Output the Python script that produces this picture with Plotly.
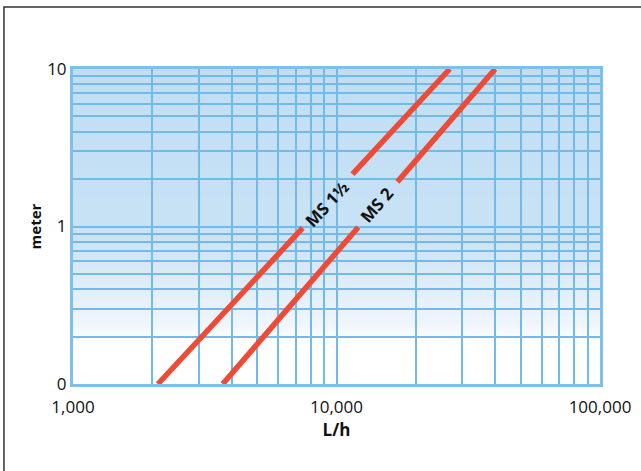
import base64
import math
import struct
import zlib

import plotly.graph_objects as go

# ---------------- data ----------------
ms15_flow = [2100, 7440, None, 11500, 26900]   # L/h
ms15_head = [0.1, 0.98, None, 2.15, 10]        # meter
ms2_flow = [3700, 12090, None, 17020, 40000]
ms2_head = [0.1, 0.99, None, 1.92, 10]

label_names = ["MS 1½", "MS 2"]
label_flow = [9200, 14250]
label_head = [1.41, 1.37]
label_angle = [-47, -49]

x_tickvals = [1000, 2000, 3000, 4000, 5000, 6000, 7000, 8000, 9000,
              10000, 20000, 30000, 40000, 50000, 60000, 70000, 80000, 90000,
              100000]
x_ticktext = ["1,000"] + [""] * 8 + ["10,000"] + [""] * 8 + ["100,000"]
y_tickvals = [0.1, 0.2, 0.3, 0.4, 0.5, 0.6, 0.7, 0.8, 0.9,
              1, 2, 3, 4, 5, 6, 7, 8, 9, 10]
y_ticktext = ["0"] + [""] * 8 + ["1"] + [""] * 8 + ["10"]

# ------------- gradient background image -------------
H = 315
stops = [  # (fraction from top, rgb)
    (0.0, (192, 222, 243)),
    (0.50, (200, 226, 245)),
    (0.59, (210, 230, 246)),
    (0.70, (226, 238, 249)),
    (0.80, (238, 244, 251)),
    (0.85, (250, 252, 254)),
    (0.86, (255, 255, 255)),
    (1.0, (255, 255, 255)),
]


def col_at(f):
    for (f0, c0), (f1, c1) in zip(stops[:-1], stops[1:]):
        if f0 <= f <= f1:
            t = 0 if f1 == f0 else (f - f0) / (f1 - f0)
            return tuple(int(round(a + (b - a) * t)) for a, b in zip(c0, c1))
    return stops[-1][1]


W = 4
raw = b"".join(b"\x00" + bytes(col_at(r / (H - 1))) * W for r in range(H))


def chunk(tag, data):
    return (struct.pack(">I", len(data)) + tag + data
            + struct.pack(">I", zlib.crc32(tag + data) & 0xFFFFFFFF))


png = (b"\x89PNG\r\n\x1a\n"
       + chunk(b"IHDR", struct.pack(">IIBBBBB", W, H, 8, 2, 0, 0, 0))
       + chunk(b"IDAT", zlib.compress(raw))
       + chunk(b"IEND", b""))
img_src = "data:image/png;base64," + base64.b64encode(png).decode()

# ---------------- figure ----------------
LINE = "#EE4B37"
GRID = "#72BAE9"
FONT = "Open Sans"

fig = go.Figure()
fig.add_trace(go.Scatter(x=ms15_flow, y=ms15_head, mode="lines",
                         line=dict(color=LINE, width=5.5), connectgaps=False,
                         showlegend=False, hoverinfo="skip"))
fig.add_trace(go.Scatter(x=ms2_flow, y=ms2_head, mode="lines",
                         line=dict(color=LINE, width=5.5), connectgaps=False,
                         showlegend=False, hoverinfo="skip"))

for name, xf, yh, ang in zip(label_names, label_flow, label_head, label_angle):
    fig.add_annotation(x=math.log10(xf), y=math.log10(yh), xref="x", yref="y",
                       text=f"<b>{name}</b>", showarrow=False, textangle=ang,
                       font=dict(family=FONT, size=17, color="#111111"))

fig.add_layout_image(dict(source=img_src, xref="paper", yref="paper", x=0, y=1,
                          sizex=1, sizey=1, sizing="stretch", xanchor="left",
                          yanchor="top", layer="below"))

# outer frame (left and top edges visible, others run past the page)
fig.add_shape(type="rect", xref="paper", yref="paper",
              x0=-0.131, y0=-0.6, x1=1.3, y1=1.197,
              line=dict(color="#333333", width=1.5), fillcolor="rgba(0,0,0,0)")

fig.update_layout(
    width=641, height=471,
    margin=dict(l=73, r=41, t=69, b=87),
    paper_bgcolor="white", plot_bgcolor="white",
    font=dict(family=FONT, size=17, color="#111111"),
    xaxis=dict(type="log", range=[3, 5], tickvals=x_tickvals, ticktext=x_ticktext,
               showgrid=True, gridcolor=GRID, gridwidth=2,
               showline=True, linecolor="#7DC0EC", linewidth=3, mirror=True,
               ticks="", zeroline=False, automargin=False, ticklabelstandoff=6,
               title=dict(text="<b>L/h</b>", font=dict(size=17), standoff=5),
               tickfont=dict(size=17)),
    yaxis=dict(type="log", range=[-1, 1], tickvals=y_tickvals, ticktext=y_ticktext,
               showgrid=True, gridcolor=GRID, gridwidth=2,
               showline=True, linecolor="#7DC0EC", linewidth=3, mirror=True,
               ticks="", zeroline=False, automargin=False,
               title=dict(text="<b>meter</b>", font=dict(size=15), standoff=2),
               tickfont=dict(size=17)),
)

fig.write_html("out.html",
               config={"displayModeBar": False, "staticPlot": True},
               post_script="document.body.style.margin='0';"
                           "document.body.style.overflow='hidden';")
